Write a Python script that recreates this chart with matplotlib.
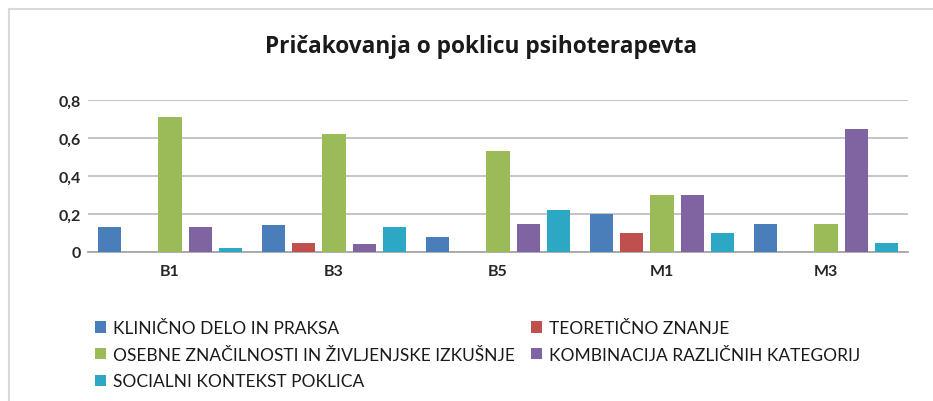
import matplotlib
matplotlib.use('Agg')
import matplotlib.pyplot as plt
from matplotlib import font_manager
import numpy as np

categories = ['B1', 'B3', 'B5', 'M1', 'M3']
series_names = ['KLINIČNO DELO IN PRAKSA', 'TEORETIČNO ZNANJE',
                'OSEBNE ZNAČILNOSTI IN ŽIVLJENJSKE IZKUŠNJE',
                'KOMBINACIJA RAZLIČNIH KATEGORIJ', 'SOCIALNI KONTEKST POKLICA']
klinicno = [0.13, 0.14, 0.08, 0.20, 0.15]
teoreticno = [0.00, 0.05, 0.00, 0.10, 0.00]
osebne = [0.71, 0.62, 0.53, 0.30, 0.15]
kombinacija = [0.13, 0.04, 0.15, 0.30, 0.65]
socialni = [0.02, 0.13, 0.22, 0.10, 0.05]
colors = ['#4A7EBB', '#C0504D', '#9BBB59', '#8064A2', '#2DA8C4']

available = {f.name for f in font_manager.fontManager.ttflist}
def pick(names):
    for n in names:
        if n in available:
            return n
    return 'DejaVu Sans'

title_font = pick(['Open Sans', 'Lato', 'DejaVu Sans'])
body_font = pick(['Liberation Sans Narrow', 'Lato', 'Liberation Sans'])

fig = plt.figure(figsize=(9.33, 4.02), dpi=100)
ax = fig.add_axes([88/933, 1 - 253/402, 820/933, 152/402])

x = np.arange(len(categories))
step = 0.185
width = 0.142
handles = []
for i, vals in enumerate([klinicno, teoreticno, osebne, kombinacija, socialni]):
    h = ax.bar(x + (i - 2) * step, vals, width, color=colors[i], label=series_names[i], zorder=3)
    handles.append(h)

ax.set_xlim(-0.5, 4.5)
ax.set_ylim(0, 0.8)
ax.set_yticks([0, 0.2, 0.4, 0.6, 0.8])
ax.set_yticklabels(['0', '0,2', '0,4', '0,6', '0,8'])
ax.set_xticks(x)
ax.set_xticklabels(categories)
for lab in ax.get_xticklabels() + ax.get_yticklabels():
    lab.set_fontfamily(body_font)
    lab.set_fontsize(11.5)
    lab.set_fontweight('bold')
    lab.set_color('#262626')
ax.tick_params(axis='both', length=0)
ax.tick_params(axis='y', pad=5)
ax.tick_params(axis='x', pad=9)
ax.grid(axis='y', color='#BFBFBF', linewidth=1.3, zorder=0)
for s in ['top', 'right', 'left']:
    ax.spines[s].set_visible(False)
ax.spines['bottom'].set_color('#A6A6A6')
ax.spines['bottom'].set_linewidth(1.3)

fig.text(481/933, 1 - 47/402, 'Pričakovanja o poklicu psihoterapevta',
         ha='center', va='center', fontsize=16.3, fontweight='bold',
         family=title_font, color='#1a1a1a')

# legend filled column-first, so reorder to read row by row
order = [0, 2, 4, 1, 3]
leg = fig.legend([handles[i] for i in order], [series_names[i] for i in order],
                 ncol=2, loc='upper left', bbox_to_anchor=(88/933, 1 - 314/402),
                 frameon=False, prop={'family': body_font, 'size': 12.5},
                 handlelength=0.65, handleheight=0.65, handletextpad=0.4,
                 columnspacing=0.9, labelspacing=0.62, borderaxespad=0)
for t in leg.get_texts():
    t.set_color('#1a1a1a')

# thin frame lines around chart area (top and left)
fig.add_artist(plt.Line2D([9/933, 1], [1 - 10/402, 1 - 10/402], color='#D9D9D9', linewidth=1.5))
fig.add_artist(plt.Line2D([9/933, 9/933], [0, 1 - 10/402], color='#D9D9D9', linewidth=1.5))

fig.savefig('out.png', dpi=100)
